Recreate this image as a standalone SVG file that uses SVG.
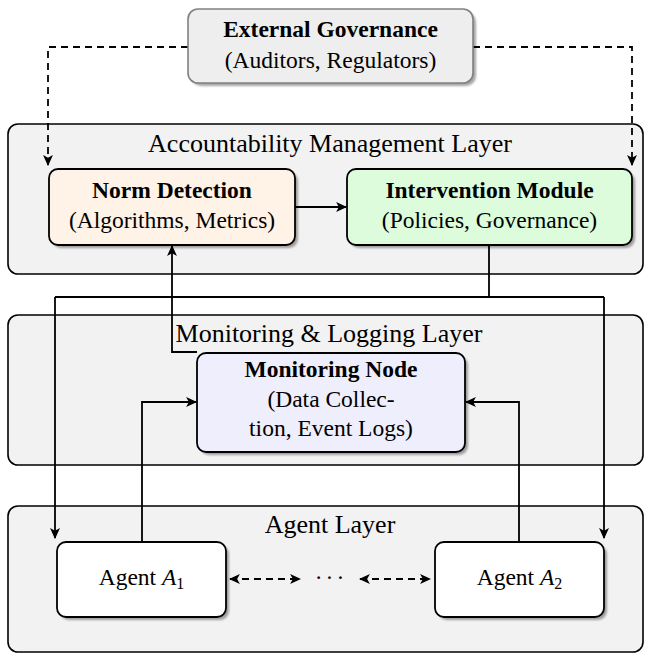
<svg xmlns="http://www.w3.org/2000/svg" width="645" height="655" viewBox="0 0 645 655">
<style>
  text { font-family: "Liberation Serif", "Times New Roman", serif; fill: #000; }
  .title { font-size: 26px; text-anchor: middle; }
  .bold { font-size: 23.5px; font-weight: bold; text-anchor: middle; }
  .reg { font-size: 23.5px; text-anchor: middle; }
  .layer { fill: #f2f2f2; stroke: #000; stroke-width: 1.6; }
  .node { stroke: #000; stroke-width: 1.8; }
  .shadow { fill: #000; opacity: 0.35; filter: url(#blur); }
  .conn { fill: none; stroke: #000; stroke-width: 1.8; }
  .dash { stroke-dasharray: 7 5; }
</style>
<defs>
  <filter id="blur" x="-10%" y="-10%" width="120%" height="120%">
    <feGaussianBlur stdDeviation="1.2"/>
  </filter>
  <marker id="arr" viewBox="0 0 10 10" refX="9" refY="5" markerWidth="11" markerHeight="11" markerUnits="userSpaceOnUse" orient="auto-start-reverse">
    <path d="M0,0.5 L10,5 L0,9.5 L2.5,5 z" fill="#000"/>
  </marker>
</defs>

<!-- Layers -->
<g id="layer-accountability">
  <rect class="layer" x="8" y="124" width="635" height="150" rx="10"/>
  <text class="title" x="330" y="152">Accountability Management Layer</text>
</g>
<g id="layer-monitoring">
  <rect class="layer" x="8" y="315" width="635" height="150" rx="10"/>
  <text class="title" x="329" y="342">Monitoring &amp; Logging Layer</text>
</g>
<g id="layer-agent">
  <rect class="layer" x="8" y="506" width="635" height="146" rx="10"/>
  <text class="title" x="330" y="533">Agent Layer</text>
</g>

<!-- Connectors -->
<g id="connectors">
  <path class="conn dash" d="M188,47 H48 V165" marker-end="url(#arr)"/>
  <path class="conn dash" d="M473,47 H632 V165" marker-end="url(#arr)"/>
  <path class="conn" d="M295,207 H346" marker-end="url(#arr)"/>
  <path class="conn" d="M489,245 V297"/>
  <path class="conn" d="M55,297 H604"/>
  <path class="conn" d="M55,297 V538" marker-end="url(#arr)"/>
  <path class="conn" d="M604,297 V538" marker-end="url(#arr)"/>
  <path class="conn" d="M197,352 H172 V246" marker-end="url(#arr)"/>
  <path class="conn" d="M142,542 V402 H196" marker-end="url(#arr)"/>
  <path class="conn" d="M519,542 V402 H466" marker-end="url(#arr)"/>
  <path class="conn dash" d="M230,579 H300" marker-start="url(#arr)" marker-end="url(#arr)"/>
  <path class="conn dash" d="M360,579 H430" marker-start="url(#arr)" marker-end="url(#arr)"/>
</g>

<!-- Nodes -->
<g id="external-governance">
  <rect class="shadow" x="191" y="12" width="285" height="74" rx="10"/>
  <rect x="188" y="9" width="285" height="74" rx="10" fill="#eeeeee" stroke="#808080" stroke-width="1.6"/>
  <text class="bold" x="330.5" y="37">External Governance</text>
  <text class="reg" x="330.5" y="68">(Auditors, Regulators)</text>
</g>
<g id="norm-detection">
  <rect class="shadow" x="52" y="172" width="246" height="76" rx="9"/>
  <rect class="node" x="49" y="169" width="246" height="76" rx="9" fill="#fff2e6"/>
  <text class="bold" x="172" y="198">Norm Detection</text>
  <text class="reg" x="172" y="228">(Algorithms, Metrics)</text>
</g>
<g id="intervention-module">
  <rect class="shadow" x="350" y="172" width="285" height="76" rx="9"/>
  <rect class="node" x="347" y="169" width="285" height="76" rx="9" fill="#dcfcdc"/>
  <text class="bold" x="489.5" y="198">Intervention Module</text>
  <text class="reg" x="489.5" y="228">(Policies, Governance)</text>
</g>
<g id="monitoring-node">
  <rect class="shadow" x="200" y="356" width="268" height="99" rx="9"/>
  <rect class="node" x="197" y="353" width="268" height="99" rx="9" fill="#eeeefc"/>
  <text class="bold" x="331" y="377">Monitoring Node</text>
  <text class="reg" x="331" y="407">(Data Collec-</text>
  <text class="reg" x="331" y="436">tion, Event Logs)</text>
</g>
<g id="agent-a1">
  <rect class="shadow" x="60" y="545" width="169" height="75" rx="9"/>
  <rect class="node" x="57" y="542" width="169" height="75" rx="9" fill="#ffffff"/>
  <text class="reg" x="141.5" y="585">Agent <tspan font-style="italic">A</tspan><tspan font-size="16" dy="4">1</tspan></text>
</g>
<g id="agent-a2">
  <rect class="shadow" x="438" y="545" width="169" height="75" rx="9"/>
  <rect class="node" x="435" y="542" width="169" height="75" rx="9" fill="#ffffff"/>
  <text class="reg" x="519.5" y="585">Agent <tspan font-style="italic">A</tspan><tspan font-size="16" dy="4">2</tspan></text>
</g>
<g id="dots">
  <text class="reg" x="331" y="585" letter-spacing="3">···</text>
</g>
</svg>
